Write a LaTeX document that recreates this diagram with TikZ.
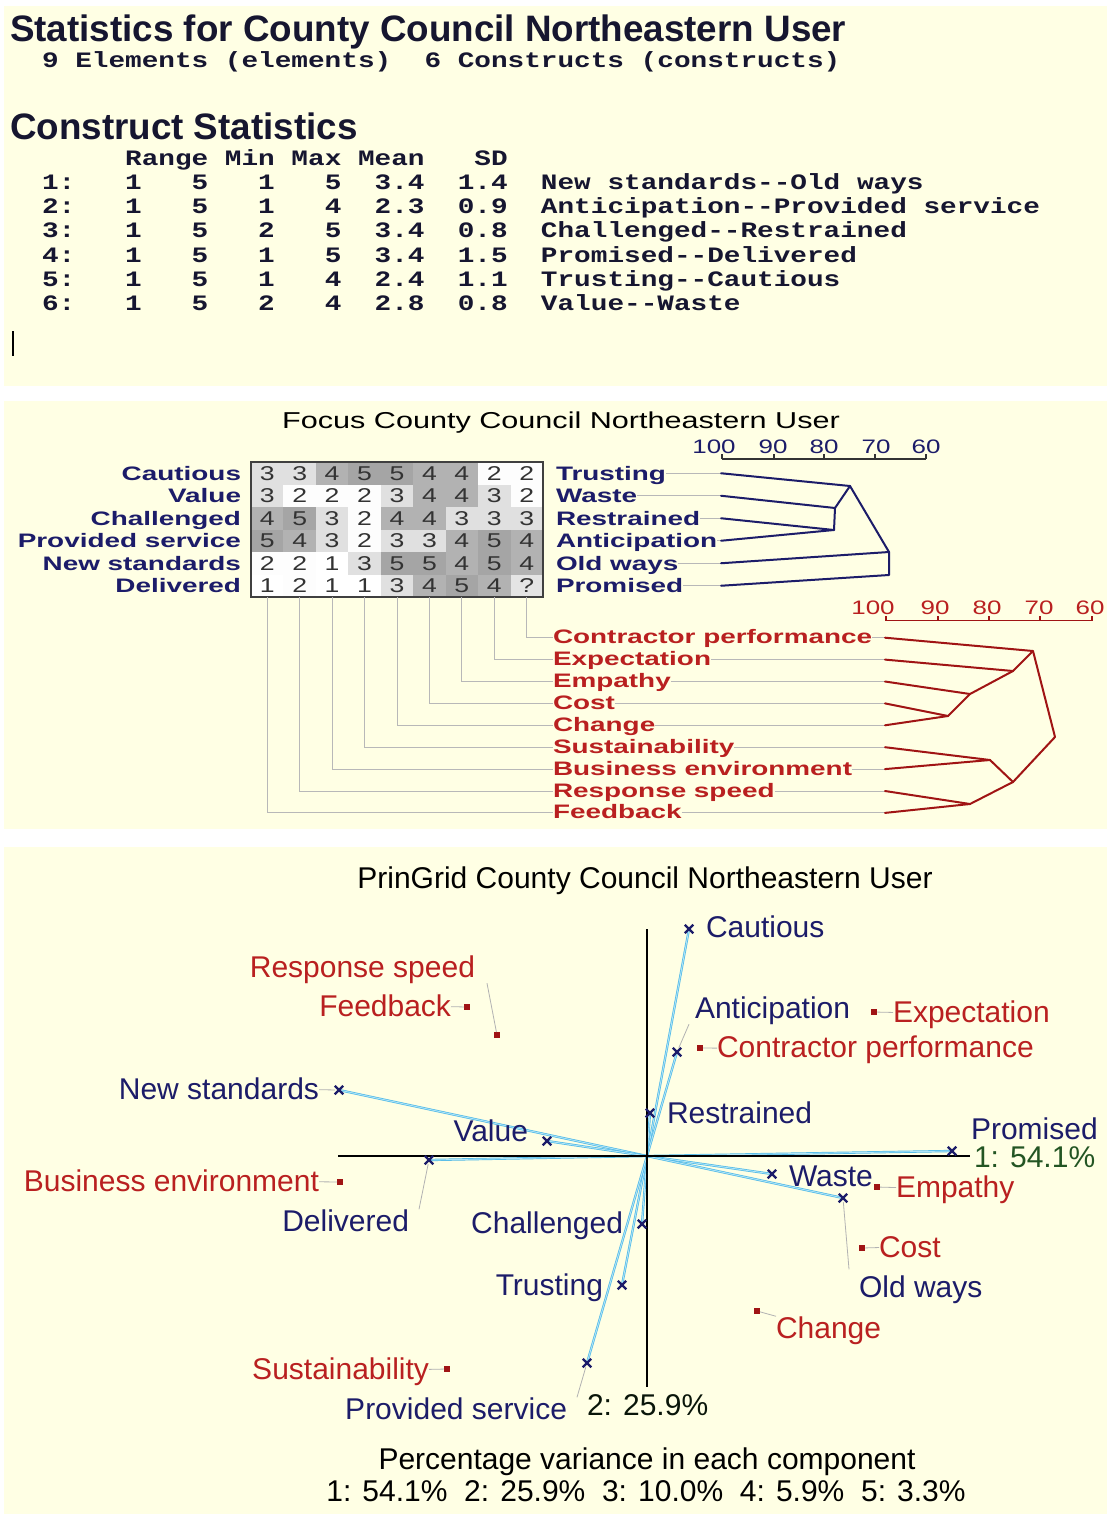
\documentclass[tikz,border=0pt]{standalone}
\usepackage{fontspec}
\setmainfont{Liberation Sans}
\setmonofont[FakeStretch=1.26]{Liberation Mono}
\newfontfamily\focusfont[FakeStretch=1.33]{Liberation Sans}
\newfontfamily\focuslab[FakeStretch=1.43]{Liberation Sans}
\usetikzlibrary{shapes.misc}
\definecolor{panel}{RGB}{255,255,228}
\definecolor{navy}{RGB}{28,28,105}
\definecolor{elred}{RGB}{185,32,32}
\definecolor{dred}{RGB}{160,20,20}
\definecolor{ink}{RGB}{22,22,48}
\definecolor{vecblue}{RGB}{80,185,230}
\definecolor{vecpale}{RGB}{175,228,248}
\definecolor{pgreen}{RGB}{35,85,35}
\definecolor{g1}{RGB}{255,255,255}
\definecolor{g2}{RGB}{253,253,253}
\definecolor{g3}{RGB}{224,224,224}
\definecolor{g4}{RGB}{178,178,178}
\definecolor{g5}{RGB}{165,165,165}
\definecolor{gq}{RGB}{228,228,228}
\newcommand\msp{\hphantom{0}}
\newcommand\mtwo{\msp\msp}
\newcommand\mthree{\msp\msp\msp}
\newcommand\celltext[1]{\if q#1?\else #1\fi}
\newcommand\gridrow[2]{%
  \foreach \v [count=\c] in {#2} {%
    \path[fill=g\v] ({251+(\c-1)*32.444},{462+(#1-1)*22.5}) rectangle ++(32.444,22.5);
    \node[digit] (cell-#1-\c) at ({251+(\c-0.5)*32.444},{462+(#1-0.5)*22.5}) {\celltext{\v}};
  }}
\begin{document}
\begin{tikzpicture}[x=1pt,y=-1pt,
  every node/.style={inner sep=0pt,outer sep=0pt},
  ttl/.style={font=\bfseries\fontsize{36.8}{40}\selectfont,text=ink,anchor=base west},
  mono/.style={font=\ttfamily\bfseries\fontsize{22}{24}\selectfont,text=ink,anchor=base west},
  ftitle/.style={font=\focusfont\fontsize{23}{26}\selectfont,text=black,anchor=base},
  conlab/.style={font=\focuslab\bfseries\fontsize{19.5}{21}\selectfont,text=navy},
  ellab/.style={font=\focuslab\bfseries\fontsize{19.5}{21}\selectfont,text=elred,anchor=base west},
  digit/.style={font=\focusfont\fontsize{20}{22}\selectfont,text=black!80},
  nscale/.style={font=\focusfont\fontsize{19.5}{21}\selectfont,text=navy,anchor=base},
  rscale/.style={font=\focusfont\fontsize{19.5}{21}\selectfont,text=elred,anchor=base},
  gline/.style={draw=black!28,line width=0.9pt},
  ndend/.style={draw=navy,line width=2pt,line join=round,line cap=round},
  rdend/.style={draw=dred,line width=2pt,line join=round,line cap=round},
  pg/.style={font=\fontsize{30}{34}\selectfont},
  con/.style={pg,text=navy},
  ele/.style={pg,text=elred},
  xmark/.style={cross out,draw=navy,line width=2.2pt,minimum size=8.5pt},
  rmark/.style={rectangle,fill=dred,minimum size=6pt},
  lead/.style={draw=black!30,line width=0.8pt},
  vec/.style={draw=vecblue,double=vecpale,double distance=0.9pt,line width=0.7pt},
  axis/.style={draw=black,line width=1.3pt}
]
\useasboundingbox (0,0) rectangle (1107,1514);
\fill[white] (0,0) rectangle (1107,1514);
\fill[panel] (4,6) rectangle (1107,386);
\fill[panel] (4,401) rectangle (1107,829);
\fill[panel] (4,847) rectangle (1107,1514);

% ---------- Panel 1: statistics ----------
\node[ttl] (t1) at (10,42) {Statistics for County Council Northeastern User};
\node[mono] (ecount) at (42,68) {9\msp Elements\msp(elements)\mtwo 6\msp Constructs\msp(constructs)};
\node[ttl] (t2) at (10,140) {Construct Statistics};
\node[mono] (hdr) at (42,166) {\mthree\mtwo Range\msp Min\msp Max\msp Mean\mthree SD};
\node[mono] (row1) at (42,190) {1:\mthree 1\mthree 5\mthree 1\mthree 5\mtwo 3.4\mtwo 1.4\mtwo New\msp standards-\kern0pt-Old\msp ways};
\node[mono] (row2) at (42,214) {2:\mthree 1\mthree 5\mthree 1\mthree 4\mtwo 2.3\mtwo 0.9\mtwo Anticipation-\kern0pt-Provided\msp service};
\node[mono] (row3) at (42,238) {3:\mthree 1\mthree 5\mthree 2\mthree 5\mtwo 3.4\mtwo 0.8\mtwo Challenged-\kern0pt-Restrained};
\node[mono] (row4) at (42,262) {4:\mthree 1\mthree 5\mthree 1\mthree 5\mtwo 3.4\mtwo 1.5\mtwo Promised-\kern0pt-Delivered};
\node[mono] (row5) at (42,286) {5:\mthree 1\mthree 5\mthree 1\mthree 4\mtwo 2.4\mtwo 1.1\mtwo Trusting-\kern0pt-Cautious};
\node[mono] (row6) at (42,310) {6:\mthree 1\mthree 5\mthree 2\mthree 4\mtwo 2.8\mtwo 0.8\mtwo Value-\kern0pt-Waste};
\draw[black,line width=1.5pt] (13,331) -- (13,356);

% ---------- Panel 2: focus ----------
\node[ftitle] (ft) at (561,428) {Focus County Council Northeastern User};
\gridrow{1}{3,3,4,5,5,4,4,2,2}
\gridrow{2}{3,2,2,2,3,4,4,3,2}
\gridrow{3}{4,5,3,2,4,4,3,3,3}
\gridrow{4}{5,4,3,2,3,3,4,5,4}
\gridrow{5}{2,2,1,3,5,5,4,5,4}
\gridrow{6}{1,2,1,1,3,4,5,4,q}
\draw[black!75,line width=1.2pt] (251,462) rectangle (543,597);

\foreach \i/\t in {1/Cautious,2/Value,3/Challenged,4/Provided service,5/New standards,6/Delivered}
  \node[conlab,anchor=base east] (L\i) at (241,{462+(\i-0.5)*22.5+7}) {\t};
\foreach \i/\t in {1/Trusting,2/Waste,3/Restrained,4/Anticipation,5/Old ways,6/Promised}{
  \node[conlab,anchor=base west] (R\i) at (556,{462+(\i-0.5)*22.5+7}) {\t};
  \coordinate (nc\i) at (721,{462+(\i-0.5)*22.5});
  \draw[gline] (R\i.east |- nc\i) -- (nc\i);
}
\coordinate (nA) at (850,486);
\coordinate (nB) at (835,508);
\coordinate (nC) at (834,530);
\coordinate (nD) at (889,552);
\coordinate (nE) at (889,575);
\draw[ndend] (nc1) -- (nA);
\draw[ndend] (nc2) -- (nB) -- (nA);
\draw[ndend] (nc3) -- (nC);
\draw[ndend] (nc4) -- (nC) -- (nB);
\draw[ndend] (nA) -- (nD);
\draw[ndend] (nc5) -- (nD);
\draw[ndend] (nc6) -- (nE) -- (nD);

\draw[black!80,line width=1.2pt] (722,459) -- (926,459);
\foreach \x in {722,774,824,875,926} \draw[black!80,line width=1.2pt] (\x,459) -- (\x,454);
\foreach \x/\t [count=\k] in {714/100,773/90,824/80,876/70,926/60}
  \node[nscale] (ns\k) at (\x,453) {\t};

\foreach \t [count=\k] in {Contractor performance,Expectation,Empathy,Cost,Change,Sustainability,Business environment,Response speed,Feedback}{
  \node[ellab] (E\k) at (553,{636.7+(\k-1)*21.9+7}) {\t};
  \coordinate (ec\k) at (885,{636.7+(\k-1)*21.9+1});
  \draw[gline] (E\k.east |- ec\k) -- (ec\k);
  \coordinate (cb\k) at ({251+(9.5-\k)*32.444},597);
  \draw[gline] (cb\k) |- (E\k.west |- ec\k);
}
\coordinate (P1) at (1033,651);
\coordinate (P2) at (1013,671);
\coordinate (P3) at (970,694);
\coordinate (P4) at (948,716);
\coordinate (P5) at (1055,737);
\coordinate (P6) at (990,760);
\coordinate (P7) at (1013,782);
\coordinate (P8) at (970,804);
\draw[rdend] (ec1) -- (P1) -- (P5);
\draw[rdend] (ec2) -- (P2) -- (P1);
\draw[rdend] (ec3) -- (P3) -- (P2);
\draw[rdend] (ec4) -- (P4) -- (P3);
\draw[rdend] (ec5) -- (P4);
\draw[rdend] (ec6) -- (P6) -- (P7) -- (P5);
\draw[rdend] (ec7) -- (P6);
\draw[rdend] (ec8) -- (P8) -- (P7);
\draw[rdend] (ec9) -- (P8);

\draw[dred,line width=1.2pt] (886,620.7) -- (1092,620.7);
\foreach \x in {886,938,989,1040,1092} \draw[dred,line width=1.2pt] (\x,620.7) -- (\x,616);
\foreach \x/\t [count=\k] in {873/100,935/90,987/80,1039/70,1090/60}
  \node[rscale] (rs\k) at (\x,614) {\t};

% ---------- Panel 3: PrinGrid ----------
\node[pg,text=black,anchor=base] (pt) at (645,888) {PrinGrid County Council Northeastern User};
\coordinate (O) at (647,1156);
\coordinate (axL) at (338,1156);
\coordinate (axR) at (970,1156);
\coordinate (axT) at (647,929);
\coordinate (axB) at (647,1387);

\coordinate (pCau) at (689,929);
\coordinate (pAnt) at (677,1052);
\coordinate (pRes) at (650,1113);
\coordinate (pNS) at (339,1090);
\coordinate (pVal) at (547,1141);
\coordinate (pDel) at (429,1160);
\coordinate (pPro) at (952,1151);
\coordinate (pWas) at (772,1174);
\coordinate (pOW) at (843,1198);
\coordinate (pCha) at (642,1224);
\coordinate (pTru) at (622,1285);
\coordinate (pPS) at (587,1363);
\foreach \m in {Cau,Ant,Res,NS,Val,Del,Pro,Was,OW,Cha,Tru,PS}
  \draw[vec] (p\m) -- (O);
\draw[axis] (axL) -- (axR);
\draw[axis] (axT) -- (axB);
\foreach \m in {Cau,Ant,Res,NS,Val,Del,Pro,Was,OW,Cha,Tru,PS}
  \node[xmark] (m\m) at (p\m) {};

\node[rmark] (mRS) at (497,1035) {};
\node[rmark] (mFB) at (467,1007) {};
\node[rmark] (mExp) at (874,1012) {};
\node[rmark] (mCP) at (700,1048) {};
\node[rmark] (mBE) at (340,1182) {};
\node[rmark] (mEmp) at (877,1187) {};
\node[rmark] (mCost) at (862,1248) {};
\node[rmark] (mChg) at (757,1311) {};
\node[rmark] (mSus) at (447,1369) {};

% construct labels
\node[con,anchor=base west] (lCau) at (706,937) {Cautious};
\node[con,anchor=base west] (lAnt) at (695,1018) {Anticipation};
\node[con,anchor=base west] (lRes) at (667,1123) {Restrained};
\node[con,anchor=base west] (lPro) at (971,1139) {Promised};
\node[con,anchor=base east] (lNS) at (319,1099) {New standards};
\node[con,anchor=base east] (lVal) at (528,1141) {Value};
\node[con,anchor=base east] (lDel) at (409,1231) {Delivered};
\node[con,anchor=base east] (lCha) at (623,1233) {Challenged};
\node[con,anchor=base west] (lWas) at (789,1186) {Waste};
\node[con,anchor=base west] (lOW) at (859,1297) {Old ways};
\node[con,anchor=base east] (lTru) at (603,1295) {Trusting};
\node[con,anchor=base east] (lPS) at (567,1419) {Provided service};
% element labels
\node[ele,anchor=base east] (lRS) at (475,977) {Response speed};
\node[ele,anchor=base east] (lFB) at (451,1016) {Feedback};
\node[ele,anchor=base west] (lExp) at (893,1022) {Expectation};
\node[ele,anchor=base west] (lCP) at (717,1057) {Contractor performance};
\node[ele,anchor=base east] (lBE) at (319,1191) {Business environment};
\node[ele,anchor=base west] (lEmp) at (896,1197) {Empathy};
\node[ele,anchor=base west] (lCost) at (879,1257) {Cost};
\node[ele,anchor=base west] (lChg) at (776,1338) {Change};
\node[ele,anchor=base east] (lSus) at (429,1379) {Sustainability};
% axis labels
\node[pg,text=pgreen,anchor=base west] (ax1) at (974,1167) {1: 54.1\%};
\node[pg,text=black!75!pgreen,anchor=base west] (ax2) at (587,1415) {2: 25.9\%};

% leaders
\draw[lead] (lFB) -- (mFB);
\draw[lead] (lExp) -- (mExp);
\draw[lead] (lCP) -- (mCP);
\draw[lead] (lBE) -- (mBE);
\draw[lead] (lEmp) -- (mEmp);
\draw[lead] (lCost) -- (mCost);
\draw[lead] (lSus) -- (mSus);
\draw[lead] (lNS) -- (mNS);
\draw[lead] ([xshift=12pt]lRS.south east) -- (mRS);
\draw[lead] (lChg.north west) -- (mChg);
\draw[lead] ([xshift=10pt]lDel.north east) -- (mDel);
\draw[lead] ([xshift=-10pt,yshift=6pt]lOW.north west) -- (mOW);
\draw[lead] ([xshift=10pt]lPS.north east) -- (mPS);
\draw[lead] ([xshift=-6pt]lAnt.south west) -- (mAnt);

\node[pg,text=black,anchor=base] (pv) at (647,1469) {Percentage variance in each component};
\node[pg,text=black,anchor=base] (pvals) at (646,1501) {1: 54.1\%~~2: 25.9\%~~3: 10.0\%~~4: 5.9\%~~5: 3.3\%};
\end{tikzpicture}
\end{document}
